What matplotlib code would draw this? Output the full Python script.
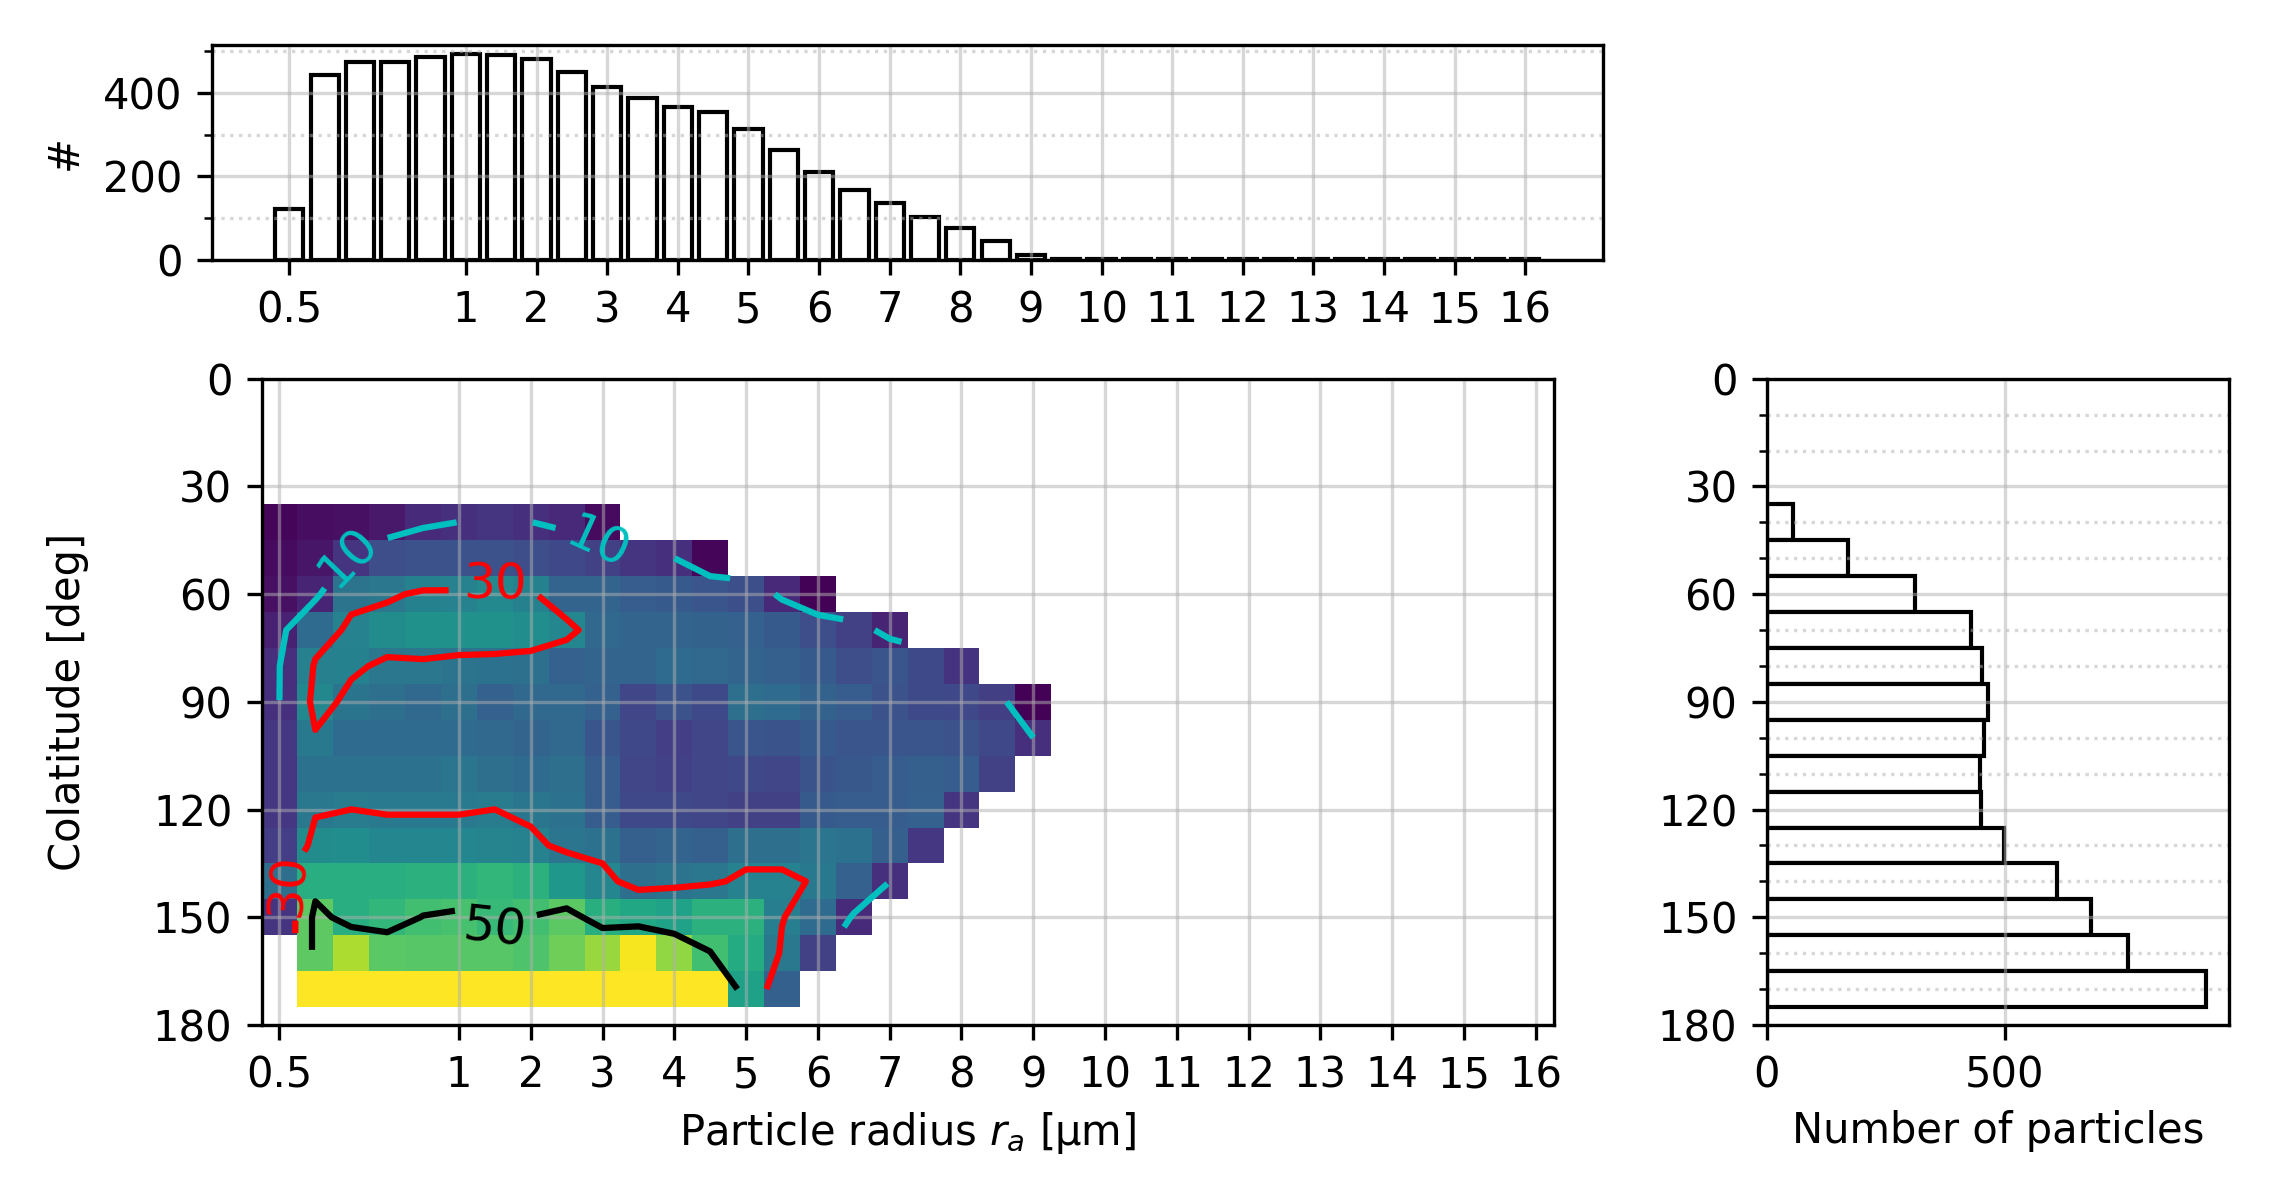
import matplotlib
matplotlib.use('Agg')
import matplotlib.pyplot as plt
import numpy as np

# radius bins, plotted by bin index
radius_bins = [0.5, 0.6, 0.7, 0.8, 0.9, 1, 1.5, 2, 2.5, 3, 3.5, 4, 4.5, 5, 5.5, 6, 6.5, 7,
               7.5, 8, 8.5, 9, 9.5, 10, 10.5, 11, 11.5, 12, 12.5, 13, 13.5, 14, 14.5, 15, 15.5, 16]
radius_ticks = [0.5, 1, 2, 3, 4, 5, 6, 7, 8, 9, 10, 11, 12, 13, 14, 15, 16]
colat_ticks = [0, 30, 60, 90, 120, 150, 180]
colat_minor = [10, 20, 40, 50, 70, 80, 100, 110, 130, 140, 160, 170]
colat_bins = [40, 50, 60, 70, 80, 90, 100, 110, 120, 130, 140, 150, 160, 170]

radius_counts = [121, 444, 473, 475, 485, 492, 490, 481, 451, 415, 387, 367, 355, 313, 263, 210, 168,
                 137, 102, 77, 45, 12, 3, 2, 2, 2, 2, 2, 2, 2, 2, 2, 2, 2, 2, 2]
colat_counts = [55, 171, 312, 429, 452, 465, 457, 448, 450, 499, 610, 681, 759, 924]

n = np.nan
row_40 = [1, 2.5, 3, 4.5, 8.5, 10.1, 11, 10.1, 8.3, 2]
row_50 = [2, 4, 11, 17, 18, 18, 18, 17, 15.5, 14, 11, 10.05, 1]
row_60 = [3, 7.1, 27.5, 28.6, 31.4, 31.5, 34, 31.3, 23, 23, 21, 20, 19, 17.2, 8.2, 0.5]
row_70 = [6.5, 25, 31.9, 34.6, 36, 36, 36, 35, 33, 24, 23, 23, 22.5, 22, 20, 17, 14, 7.1]
row_80 = [9.8, 31.2, 31.4, 28.5, 28.6, 27.4, 27, 26.4, 22, 23, 23, 25, 24, 23, 21.5, 20, 17, 19, 15.9, 10.5]
row_90 = [10.01, 33.5, 27.7, 26, 24, 26, 22, 24, 24, 22, 15, 18, 16, 26, 25, 22.5, 21, 18, 16, 15.5, 13.3, 0.5]
row_100 = [11.5, 29, 25, 25, 25, 25, 24, 23, 24, 19, 15.5, 13, 15, 19, 18.5, 20, 19, 19, 19, 18, 15.5, 10.02]
row_110 = [11.5, 27, 27, 27, 27, 28, 26, 25, 26, 21, 15, 13.5, 15, 15.5, 15, 18.5, 19.5, 21, 21.5, 21, 14]
row_120 = [11.5, 28.7, 30.02, 29.5, 29.5, 29.5, 30.02, 28.2, 27, 21, 15.5, 15.5, 15, 14, 14, 20, 21, 21, 22, 11]
row_130 = [13, 34.6, 35, 33, 33, 33, 32.5, 32, 28, 27, 21.5, 23, 21.5, 26, 26, 28, 27, 21.5, 11.5]
row_140 = [26, 45, 45, 45, 46, 46, 47.5, 46, 38.5, 33, 26, 27.5, 28.5, 32, 32, 29, 22, 10.1]
row_150 = [11, 54, 45.2, 47.5, 50.2, 51, 48.5, 50.1, 53.8, 45.3, 42.9, 41.5, 46, 46, 30.4, 25, 8.5]
row_160 = [n, 54, 63, 53.5, 53, 53, 53, 52, 56, 61, 71, 60, 50.2, 44, 28.8, 14]
row_170 = [n, 78, 78, 78, 78, 78, 78, 78, 78, 78, 78, 78, 78, 41, 21.7]

rows = [row_40, row_50, row_60, row_70, row_80, row_90, row_100, row_110, row_120,
        row_130, row_140, row_150, row_160, row_170]
share = np.full((len(colat_bins), len(radius_bins)), np.nan)
for i, row in enumerate(rows):
    share[i, :len(row)] = row
share = np.ma.masked_invalid(share)


def place(fig, left, right, top, bottom):
    W, H = 2280.0, 1200.0
    return fig.add_axes([left / W, 1 - bottom / H, (right - left) / W, (bottom - top) / H])


def radius_pos(r):
    return radius_bins.index(r)


fig = plt.figure(figsize=(7.6, 4), dpi=300)

ax_top = place(fig, 212, 1602.7, 45.3, 260)
ax_main = place(fig, 261.5, 1553.8, 378.7, 1025)
ax_right = place(fig, 1766.7, 2229, 378.7, 1025)

bin_idx = np.arange(len(radius_bins))
tick_pos = [radius_pos(r) for r in radius_ticks]
tick_labels = [str(r) for r in radius_ticks]

# top histogram
ax_top.bar(bin_idx, radius_counts, width=0.8, facecolor='w', edgecolor='k', linewidth=1)
ax_top.set_xticks(tick_pos)
ax_top.set_xticklabels(tick_labels)
ax_top.set_yticks([0, 200, 400])
ax_top.set_yticks([100, 300, 500], minor=True)
ax_top.set_ylim(0, 514)
ax_top.set_ylabel('#')
ax_top.grid(which='major', alpha=0.5)
ax_top.grid(which='minor', axis='y', linestyle=':', alpha=0.5)

# heatmap and contours
x_edges = np.arange(len(radius_bins) + 1) - 0.5
y_edges = np.append(np.array(colat_bins) - 5, colat_bins[-1] + 5)
ax_main.pcolormesh(x_edges, y_edges, share, cmap='viridis', vmin=0, vmax=72)
cs = ax_main.contour(bin_idx, colat_bins, share, levels=[10, 30, 50], colors=['c', 'r', 'k'])
labels = ax_main.clabel(cs, inline=True, inline_spacing=15, fontsize=12, fmt='%d',
                        manual=[(1.78, 48.7), (9.03, 43.6), (6, 56.6), (0.2, 141), (6, 153)])
# the y axis is inverted, so flip the label angles to follow the lines
for t in labels:
    t.set_rotation(-t.get_rotation())
ax_main.set_xlim(x_edges[0], x_edges[-1])
ax_main.set_ylim(180, 0)
ax_main.set_xticks(tick_pos)
ax_main.set_xticklabels(tick_labels)
ax_main.set_yticks(colat_ticks)
ax_main.set_xlabel('Particle radius $r_a$ [µm]', labelpad=3.2)
ax_main.set_ylabel('Colatitude [deg]')
ax_main.grid(which='major', alpha=0.5)

# right histogram
ax_right.barh(colat_bins, colat_counts, height=10, facecolor='w', edgecolor='k', linewidth=1)
ax_right.set_xlim(0, 972)
ax_right.set_ylim(180, 0)
ax_right.set_xticks([0, 500])
ax_right.set_yticks(colat_ticks)
ax_right.set_yticks(colat_minor, minor=True)
ax_right.set_xlabel('Number of particles', labelpad=3.2)
ax_right.grid(which='major', alpha=0.5)
ax_right.grid(which='minor', axis='y', linestyle=':', alpha=0.5)

ax_top.yaxis.set_label_coords((86 - 212) / (1602.7 - 212), 0.5)
ax_main.yaxis.set_label_coords((89 - 261.5) / (1553.8 - 261.5), 0.5)

fig.savefig('out.png', dpi=300)
